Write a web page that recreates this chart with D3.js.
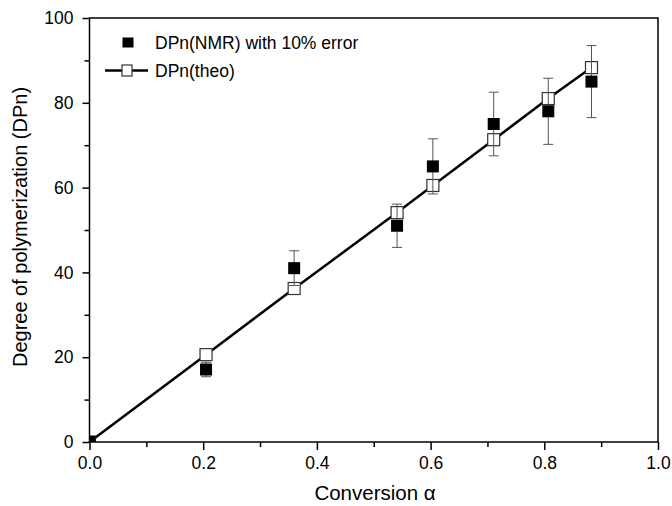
<!DOCTYPE html>
<html>
<head>
<meta charset="utf-8">
<script src="https://cdn.jsdelivr.net/npm/d3@7"></script>
<style>
  body { margin: 0; background: #fff; }
  svg { font-family: "Liberation Sans", Arial, sans-serif; }
</style>
</head>
<body>
<svg id="chart" width="672" height="506"></svg>
<script>
// conversion values
const conversion = [0, 0.205, 0.36, 0.541, 0.604, 0.711, 0.807, 0.883];
// DPn from NMR (10% error bars)
const dpnNmr = [0, 17.1, 41, 51, 65, 75, 78, 85];
// theoretical DPn
const dpnTheo = [0, 20.6, 36.2, 54.1, 60.5, 71.3, 81, 88.3];

const xTicks = [0, 0.2, 0.4, 0.6, 0.8, 1.0];
const yTicks = [0, 20, 40, 60, 80, 100];

const svg = d3.select('#chart'),
      margin = { top: 18, right: 14, bottom: 64, left: 89.5 },
      width = +svg.attr('width') - margin.left - margin.right,
      height = +svg.attr('height') - margin.top - margin.bottom;

const g = svg.append('g')
    .attr('transform', `translate(${margin.left},${margin.top})`);

svg.append('defs').append('clipPath').attr('id', 'plot-clip')
  .append('rect').attr('width', width).attr('height', height);

const x = d3.scaleLinear().domain([0, 1]).range([0, width]);
const y = d3.scaleLinear().domain([0, 100]).range([height, 0]);

const data = conversion.map((c, i) => ({ c, nmr: dpnNmr[i], theo: dpnTheo[i] }));

// minor ticks
g.append('g')
  .attr('transform', `translate(0,${height})`)
  .call(d3.axisBottom(x).tickValues(d3.range(0.1, 1, 0.2)).tickSize(5).tickFormat(''))
  .call(a => a.select('.domain').remove())
  .selectAll('line').attr('stroke-width', 1.5);

g.append('g')
  .call(d3.axisLeft(y).tickValues(d3.range(10, 100, 20)).tickSize(5).tickFormat(''))
  .call(a => a.select('.domain').remove())
  .selectAll('line').attr('stroke-width', 1.5);

// major ticks
const xAxis = g.append('g')
  .attr('transform', `translate(0,${height})`)
  .call(d3.axisBottom(x).tickValues(xTicks).tickSize(8).tickPadding(7).tickFormat(d3.format('.1f')));
xAxis.select('.domain').remove();
xAxis.selectAll('line').attr('stroke-width', 1.5);
xAxis.selectAll('text').attr('font-size', 17.5).attr('fill', '#000')
  .attr('font-family', '"Liberation Sans", Arial, sans-serif');

const yAxis = g.append('g')
  .call(d3.axisLeft(y).tickValues(yTicks).tickSize(7).tickPadding(9));
yAxis.select('.domain').remove();
yAxis.selectAll('line').attr('stroke-width', 1.5);
yAxis.selectAll('text').attr('font-size', 17.5).attr('fill', '#000')
  .attr('font-family', '"Liberation Sans", Arial, sans-serif');

// axis titles
svg.append('text')
  .attr('x', 375)
  .attr('y', 500)
  .attr('text-anchor', 'middle')
  .attr('font-size', 20.5)
  .text('Conversion α');

svg.append('text')
  .attr('transform', 'rotate(-90)')
  .attr('x', -227)
  .attr('y', 27)
  .attr('text-anchor', 'middle')
  .attr('font-size', 20)
  .text('Degree of polymerization (DPn)');

const plot = g.append('g').attr('clip-path', 'url(#plot-clip)');

// theoretical line
const line = d3.line().x(d => x(d.c)).y(d => y(d.theo));
plot.append('path')
  .datum(data)
  .attr('d', line)
  .attr('fill', 'none')
  .attr('stroke', '#000')
  .attr('stroke-width', 2.5);

const s = 12;

// theo markers
plot.selectAll('.theo')
  .data(data)
  .enter().append('rect')
    .attr('x', d => x(d.c) - s / 2)
    .attr('y', d => y(d.theo) - s / 2)
    .attr('width', s).attr('height', s)
    .attr('fill', '#fff')
    .attr('stroke', '#333')
    .attr('stroke-width', 1.2);

// error bars (10%)
const eb = plot.selectAll('.err')
  .data(data.filter(d => d.c > 0))
  .enter().append('g')
    .attr('stroke', '#555')
    .attr('stroke-width', 1);
eb.append('line')
  .attr('x1', d => x(d.c)).attr('x2', d => x(d.c))
  .attr('y1', d => y(d.nmr * 1.1)).attr('y2', d => y(d.nmr * 0.9));
eb.append('line')
  .attr('x1', d => x(d.c) - 5).attr('x2', d => x(d.c) + 5)
  .attr('y1', d => y(d.nmr * 1.1)).attr('y2', d => y(d.nmr * 1.1));
eb.append('line')
  .attr('x1', d => x(d.c) - 5).attr('x2', d => x(d.c) + 5)
  .attr('y1', d => y(d.nmr * 0.9)).attr('y2', d => y(d.nmr * 0.9));

// NMR markers
plot.selectAll('.nmr')
  .data(data)
  .enter().append('rect')
    .attr('x', d => x(d.c) - s / 2)
    .attr('y', d => y(d.nmr) - s / 2)
    .attr('width', s).attr('height', s)
    .attr('fill', '#000');

// frame
g.append('rect')
  .attr('width', width).attr('height', height)
  .attr('fill', 'none').attr('stroke', '#000').attr('stroke-width', 1.5);

// legend
const legend = svg.append('g').attr('font-size', 17.5);
legend.append('rect')
  .attr('x', 122.5).attr('y', 37.5).attr('width', 11).attr('height', 10)
  .attr('fill', '#000');
legend.append('text')
  .attr('x', 155).attr('y', 49)
  .text('DPn(NMR) with 10% error');
legend.append('line')
  .attr('x1', 105).attr('x2', 148).attr('y1', 70.5).attr('y2', 70.5)
  .attr('stroke', '#000').attr('stroke-width', 2.5);
legend.append('rect')
  .attr('x', 122).attr('y', 65).attr('width', 10).attr('height', 11)
  .attr('fill', '#fff').attr('stroke', '#333').attr('stroke-width', 1.2);
legend.append('text')
  .attr('x', 155).attr('y', 77)
  .text('DPn(theo)');
</script>
</body>
</html>
